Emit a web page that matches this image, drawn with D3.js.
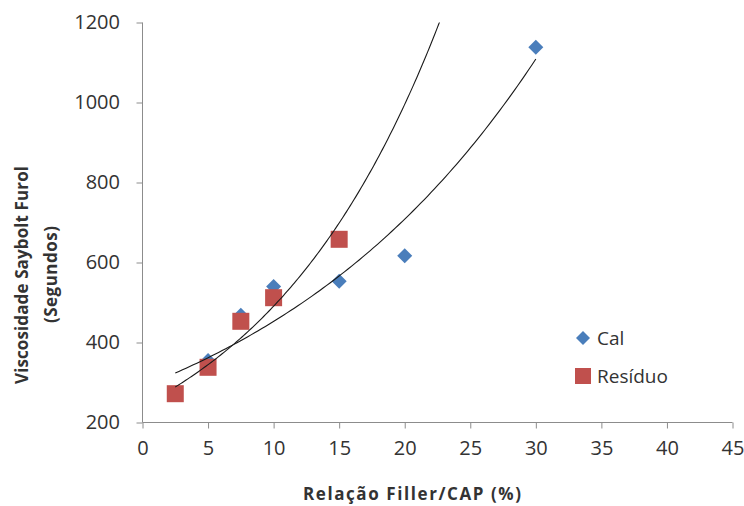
<!DOCTYPE html>
<html><head><meta charset="utf-8">
<script src="https://cdn.jsdelivr.net/npm/d3@7"></script>
<style>body{margin:0;background:#fff}svg{display:block}text{font-family:"Open Sans",sans-serif}</style>
</head><body><svg id="c" width="744" height="506"></svg>
<script>
// Data
const calX = [2.5, 5, 7.5, 10, 15, 20, 30];
const calY = [274, 355, 468, 540, 553, 617, 1138];
const resX = [2.5, 5, 7.5, 10, 15];
const resY = [272, 338, 453, 512, 658];
const xTicks = [0, 5, 10, 15, 20, 25, 30, 35, 40, 45];
const yTicks = [200, 400, 600, 800, 1000, 1200];
const seriesNames = ["Cal", "Resíduo"];

const svg = d3.select("#c");
const x = d3.scaleLinear().domain([0, 45]).range([142.5, 732.5]);
const y = d3.scaleLinear().domain([200, 1200]).range([422.5, 22.5]);

const axisColor = "#8c8c8c";
const ya = svg.append("g").attr("transform", `translate(${x(0)},0)`)
  .call(d3.axisLeft(y).tickValues(yTicks).tickSize(6).tickPadding(16.5).tickFormat(d3.format("d")));
const xa = svg.append("g").attr("transform", `translate(0,${y(200)})`)
  .call(d3.axisBottom(x).tickValues(xTicks).tickSize(6).tickPadding(12).tickFormat(d3.format("d")));
[ya, xa].forEach(g => {
  g.selectAll("path,line").attr("stroke", axisColor);
  g.selectAll("text").attr("font-size", 20).attr("fill", "#333");
});
ya.select(".domain").attr("d", `M0,${y(1200)}V${y(200)}`);
xa.select(".domain").attr("d", `M${x(0)},0H${x(45)}`);

// Exponential least-squares fit
function expFit(xs, ys) {
  const ly = ys.map(Math.log);
  const mx = d3.mean(xs), my = d3.mean(ly);
  let sxy = 0, sxx = 0;
  xs.forEach((v, i) => { sxy += (v - mx) * (ly[i] - my); sxx += (v - mx) * (v - mx); });
  const b = sxy / sxx, a = Math.exp(my - b * mx);
  return t => a * Math.exp(b * t);
}
svg.append("clipPath").attr("id", "pa").append("rect")
  .attr("x", x(0)).attr("y", y(1200)).attr("width", x(45) - x(0)).attr("height", y(200) - y(1200));

const line = d3.line().x(d => x(d[0])).y(d => y(d[1]));
const fC = expFit(calX, calY), fR = expFit(resX, resY);
const ptsC = d3.range(0, 101).map(i => { const t = d3.min(calX) + (d3.max(calX) - d3.min(calX)) * i / 100; return [t, fC(t)]; });
const ptsR = d3.range(0, 201).map(i => { const t = d3.min(resX) + (30 - d3.min(resX)) * i / 200; return [t, fR(t)]; });

function diamondPath(cx, cy, r) { return `M${cx},${cy - r}L${cx + r},${cy}L${cx},${cy + r}L${cx - r},${cy}Z`; }

svg.append("g").selectAll("path").data(calX).join("path")
  .attr("d", (d, i) => diamondPath(x(d), y(calY[i]), 7.5))
  .attr("fill", "#4a7ebb");
svg.append("g").selectAll("rect").data(resX).join("rect")
  .attr("x", d => x(d) - 8.5).attr("y", (d, i) => y(resY[i]) - 8.5)
  .attr("width", 17).attr("height", 17).attr("fill", "#c0504d");

const lg = svg.append("g").attr("clip-path", "url(#pa)");
lg.append("path").attr("d", line(ptsC)).attr("fill", "none").attr("stroke", "#1a1a1a").attr("stroke-width", 1.1);
lg.append("path").attr("d", line(ptsR)).attr("fill", "none").attr("stroke", "#1a1a1a").attr("stroke-width", 1.1);

// legend
svg.append("path").attr("d", diamondPath(583, 338, 7)).attr("fill", "#4a7ebb");
svg.append("rect").attr("x", 575).attr("y", 368).attr("width", 16).attr("height", 16).attr("fill", "#c0504d");
svg.append("text").attr("x", 597).attr("y", 345).attr("font-size", 19).attr("fill", "#333").text(seriesNames[0]);
svg.append("text").attr("x", 597).attr("y", 383).attr("font-size", 19).attr("fill", "#333").text(seriesNames[1]);

// titles
svg.append("text").attr("x", 303).attr("y", 500)
  .attr("font-size", 17).attr("font-weight", "bold").attr("fill", "#333")
  .attr("textLength", 218).attr("lengthAdjust", "spacing").text("Relação Filler/CAP (%)");
const yt = svg.append("text").attr("transform", "translate(0,275) rotate(-90)")
  .attr("font-size", 17).attr("font-weight", "bold").attr("fill", "#333");
yt.append("tspan").attr("x", -109).attr("y", 28).attr("textLength", 218).attr("lengthAdjust", "spacing").text("Viscosidade Saybolt Furol");
yt.append("tspan").attr("x", -48).attr("y", 57).attr("textLength", 97).attr("lengthAdjust", "spacing").text("(Segundos)");
</script></body></html>
